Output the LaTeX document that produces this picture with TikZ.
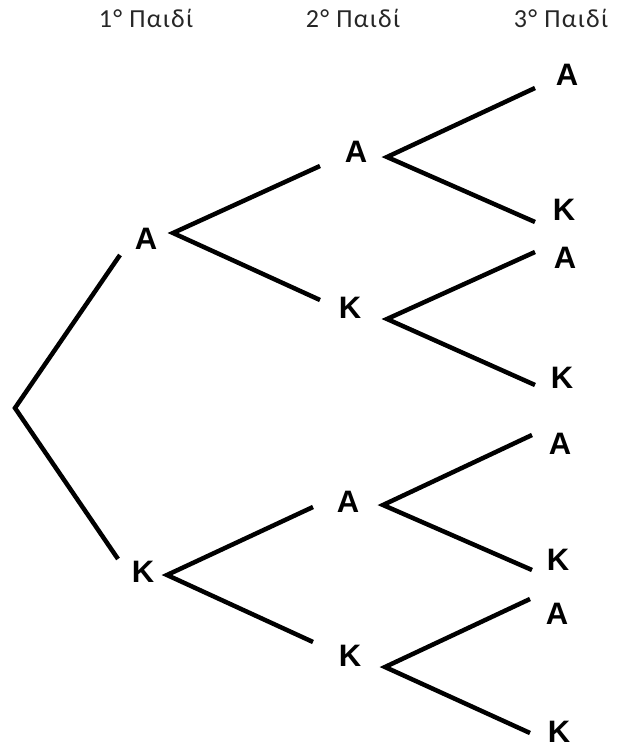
\documentclass[tikz,border=0pt]{standalone}
\usepackage{fontspec}
\setmainfont{Liberation Sans}
\newfontfamily\hdrfont[LetterSpace=5]{Carlito}

\begin{document}
\begin{tikzpicture}[x=1pt,y=-1pt,
  hdr/.style={font=\hdrfont\fontsize{26}{26}\selectfont,anchor=base,inner sep=0pt,text=black!85},
  lbl/.style={font=\fontsize{31}{31}\selectfont\bfseries,inner sep=0pt},
  br/.style={line width=4.5pt,line join=miter}]
\useasboundingbox (0,0) rectangle (617,749);
% headers
\node[hdr] (h1) at (146,28) {1° Παιδί};
\node[hdr] (h2) at (353,28) {2° Παιδί};
\node[hdr] (h3) at (561,28) {3° Παιδί};
% first child
\node[lbl] (a) at (146,239) {Α};
\node[lbl] (k) at (143,572) {Κ};
% second child
\node[lbl] (aa) at (356,152) {Α};
\node[lbl] (ak) at (350,308) {Κ};
\node[lbl] (ka) at (348,502) {Α};
\node[lbl] (kk) at (350,656) {Κ};
% third child
\node[lbl] (aaa) at (567,75) {Α};
\node[lbl] (aak) at (564,210) {Κ};
\node[lbl] (aka) at (565,258) {Α};
\node[lbl] (akk) at (562,378) {Κ};
\node[lbl] (kaa) at (560,444) {Α};
\node[lbl] (kak) at (558,560) {Κ};
\node[lbl] (kka) at (557,614) {Α};
\node[lbl] (kkk) at (559,732) {Κ};
% forks
\coordinate (r) at (15,408);
\coordinate (af) at (173,233);
\coordinate (kf) at (167,575);
\coordinate (aaf) at (387,157);
\coordinate (akf) at (387,319);
\coordinate (kaf) at (383,505);
\coordinate (kkf) at (385,667);
% branches
\draw[br] ([shift={(-26,16)}]a.center) -- (r) -- ([shift={(-25,-13)}]k.center);
\draw[br] ([shift={(-36,14)}]aa.center) -- (af) -- ([shift={(-30,-8)}]ak.center);
\draw[br] ([shift={(-35,5)}]ka.center) -- (kf) -- ([shift={(-37,-14)}]kk.center);
\draw[br] ([shift={(-32,13)}]aaa.center) -- (aaf) -- ([shift={(-29,12)}]aak.center);
\draw[br] ([shift={(-30,-6)}]aka.center) -- (akf) -- ([shift={(-27,7)}]akk.center);
\draw[br] ([shift={(-28,-9)}]kaa.center) -- (kaf) -- ([shift={(-26,10)}]kak.center);
\draw[br] ([shift={(-27,-15)}]kka.center) -- (kkf) -- ([shift={(-29,1)}]kkk.center);
\end{tikzpicture}
\end{document}
